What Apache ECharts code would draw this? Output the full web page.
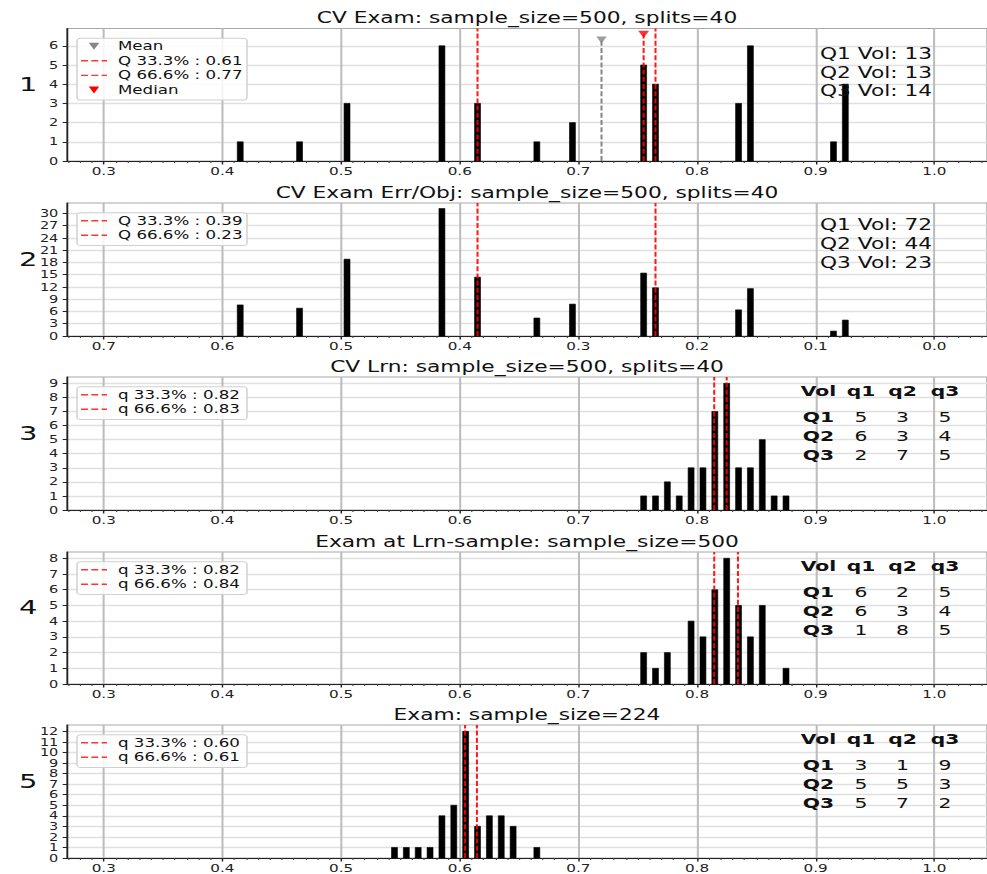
<!DOCTYPE html>
<html><head><meta charset="utf-8">
<script src="https://cdn.jsdelivr.net/npm/echarts@6/dist/echarts.min.js"></script>
<style>
html,body{margin:0;padding:0;background:#fff;overflow:hidden;}
#wrap{position:relative;width:987px;height:874px;overflow:hidden;background:#fff;}
#c{position:absolute;left:0;top:0;width:681px;height:874px;transform:scaleX(1.449339);transform-origin:0 0;}
</style></head>
<body><div id="wrap"><div id="c"></div></div>
<script>
// ---------------- data ----------------
const titles = ['CV Exam: sample_size=500, splits=40',
  'CV Exam Err/Obj: sample_size=500, splits=40',
  'CV Lrn: sample_size=500, splits=40',
  'Exam at Lrn-sample: sample_size=500',
  'Exam: sample_size=224'];
const panelNames = ['1','2','3','4','5'];

const xTickLabels = [0.3,0.4,0.5,0.6,0.7,0.8,0.9,1.0];
const xTickLabelsErr = [0.7,0.6,0.5,0.4,0.3,0.2,0.1,0.0];

const yTicks1 = [0,1,2,3,4,5,6];
const yTicks2 = [0,3,6,9,12,15,18,21,24,27,30];
const yTicks3 = [0,1,2,3,4,5,6,7,8,9];
const yTicks4 = [0,1,2,3,4,5,6,7,8];
const yTicks5 = [0,1,2,3,4,5,6,7,8,9,10,11,12];

// panel 1
const bins1 = [0.415,0.465,0.505,0.585,0.615,0.665,0.695,0.755,0.765,0.835,0.845,0.915,0.925];
const counts1 = [1,1,3,6,3,1,2,5,4,3,6,1,4];
const quant1 = [0.615,0.765];
const legend1 = ['Mean','Q 33.3% : 0.61','Q 66.6% : 0.77','Median'];
const mean1 = [0.7195, 6.3];     // x, marker height
const median1 = [0.755, 6.6];    // x, marker height
const vol1 = [13,13,14];

// panel 2 (error / objective, reversed axis)
const bins2 = [0.585,0.535,0.495,0.415,0.385,0.335,0.305,0.245,0.235,0.165,0.155,0.085,0.075];
const weights2 = [7.6,6.8,18.8,31.2,14.4,4.4,7.8,15.4,11.8,6.4,11.6,1.2,3.9];
const quant2 = [0.385,0.235];
const legend2 = ['Q 33.3% : 0.39','Q 66.6% : 0.23'];
const vol2 = [72,44,23];

// panel 3
const bins3 = [0.755,0.765,0.775,0.785,0.795,0.805,0.815,0.825,0.835,0.845,0.855,0.865,0.875];
const counts3 = [1,1,2,1,3,3,7,9,3,3,5,1,1];
const quant3 = [0.8145,0.825];
const legend3 = ['q 33.3% : 0.82','q 66.6% : 0.83'];
const table3 = [[5,3,5],[6,3,4],[2,7,5]];

// panel 4
const bins4 = [0.755,0.765,0.775,0.785,0.795,0.805,0.815,0.825,0.835,0.845,0.855,0.865,0.875];
const counts4 = [2,1,2,0,4,3,6,8,5,3,5,0,1];
const quant4 = [0.8145,0.8345];
const legend4 = ['q 33.3% : 0.82','q 66.6% : 0.84'];
const table4 = [[6,2,5],[6,3,4],[1,8,5]];

// panel 5
const bins5 = [0.545,0.555,0.565,0.575,0.585,0.595,0.605,0.615,0.625,0.635,0.645,0.655,0.665];
const counts5 = [1,1,1,1,4,5,12,3,4,4,3,0,1];
const quant5 = [0.6045,0.6145];
const legend5 = ['q 33.3% : 0.60','q 66.6% : 0.61'];
const table5 = [[3,1,9],[5,5,3],[5,7,2]];

const tableHead = ['Vol','q1','q2','q3'];
const tableRows = ['Q1','Q2','Q3'];

// ---------------- layout / style ----------------
const S = 987/681;               // horizontal stretch of the reference picture
const PX = v => v / S;           // picture x -> chart x
const F = '"DejaVu Sans", sans-serif';
const gridTops = [28.5, 203, 377, 552, 725];
const gridHeights = [132.5, 133, 133, 132, 134];
const yMax = [6.9, 32.55, 9.45, 8.4, 12.6];
const GL = PX(67), GW = PX(925);
const XMIN = 0.269, XMAX = 1.0444;
const BAR_HALF = 0.0025;
const RED = 'rgba(255,0,0,0.9)';
const GRAY = '#858585';
const DASH = [5, 2.2];

const panels = [
  {bins:bins1, h:counts1, q:quant1, legend:legend1, yt:yTicks1, inv:false},
  {bins:bins2, h:weights2, q:quant2, legend:legend2, yt:yTicks2, inv:true},
  {bins:bins3, h:counts3, q:quant3, legend:legend3, yt:yTicks3, inv:false, table:table3},
  {bins:bins4, h:counts4, q:quant4, legend:legend4, yt:yTicks4, inv:false, table:table4},
  {bins:bins5, h:counts5, q:quant5, legend:legend5, yt:yTicks5, inv:false, table:table5}
];

function minorVals(lo, hi){ const a=[]; for(let k=lo;k<=hi;k++){ if(k%10!==0) a.push(k/100);} return a; }

const grid=[], xAxis=[], yAxis=[], series=[], graphic=[];

function barsRender(params, api){
  const x = api.value(0), h = api.value(1);
  if (!(h > 0)) return null;
  const a = api.coord([x-BAR_HALF, h]), b = api.coord([x+BAR_HALF, 0]);
  return {type:'rect', shape:{x:Math.min(a[0],b[0]), y:a[1], width:Math.abs(b[0]-a[0]), height:b[1]-a[1]},
    style:{fill:'#000', stroke:'#000', lineWidth:0.5}};
}
function vlineRender(color){
  return function(params, api){
    const x = api.value(0), top = api.value(1);
    const a = api.coord([x, 0]), b = api.coord([x, top]);
    return {type:'line', shape:{x1:a[0], y1:a[1], x2:b[0], y2:b[1]},
      style:{stroke:color, lineWidth:1.4, lineDash:DASH}};
  };
}

panels.forEach((p, i) => {
  const top = gridTops[i], hgt = gridHeights[i];
  grid.push({left:GL, top:top, width:GW, height:hgt, show:true, borderColor:'#a8a8a8', borderWidth:1, backgroundColor:'#fff'});
  const min = p.inv ? 1-XMAX : XMIN, max = p.inv ? 1-XMIN : XMAX;
  const ticks = p.inv ? xTickLabelsErr : xTickLabels;
  xAxis.push({gridIndex:i, type:'value', min:min, max:max, inverse:p.inv, position:'bottom',
    axisLine:{show:true, onZero:false, lineStyle:{color:'#222', width:1.2}},
    axisTick:{show:true, length:3.5, customValues:ticks, lineStyle:{color:'#222', width:1}},
    axisLabel:{customValues:ticks, margin:5, fontSize:10.5, fontFamily:F, color:'#222', formatter:v=>v.toFixed(1), hideOverlap:false},
    splitLine:{show:true, lineStyle:{color:'#bcbcbc', width:1.4}}});
  xAxis.push({gridIndex:i, type:'value', min:min, max:max, inverse:p.inv, position:'bottom',
    axisLine:{show:false},
    axisTick:{show:true, length:2, customValues: p.inv ? minorVals(-4,73) : minorVals(27,104), lineStyle:{color:'#444', width:0.8}},
    axisLabel:{show:false}, splitLine:{show:false}});
  yAxis.push({gridIndex:i, type:'value', min:0, max:yMax[i],
    axisLine:{show:true, onZero:false, lineStyle:{color:'#222', width:1.2}},
    axisTick:{show:true, length:3, customValues:p.yt, lineStyle:{color:'#222'}},
    axisLabel:{customValues:p.yt, margin:6, fontSize:10, lineHeight:9, fontFamily:F, color:'#222', hideOverlap:false, showMinLabel:true, showMaxLabel:true},
    splitLine:{show:true, lineStyle:{color:'#e0e0e0', width:1.3}}});

  series.push({type:'custom', xAxisIndex:2*i, yAxisIndex:i, z:2, silent:true,
    data:p.bins.map((b,k)=>[b, p.h[k]]), renderItem:barsRender});
  series.push({type:'custom', xAxisIndex:2*i, yAxisIndex:i, z:3, silent:true,
    data:p.q.map(v=>[v, yMax[i]]), renderItem:vlineRender(RED)});

  // legend box
  const n = p.legend.length;
  const lx = PX(77), ly = top + 9.8;
  graphic.push({type:'rect', z:50, shape:{x:lx, y:ly, width:PX(170), height:14.6*n+3.4, r:2.5},
    style:{fill:'rgba(255,255,255,0.85)', stroke:'#d0d0d0', lineWidth:1}});
  p.legend.forEach((txt, k) => {
    const ry = top + 17.7 + 14.6*k;
    const isTri = (i===0 && (k===0 || k===3));
    if (isTri) {
      const cx = PX(94), col = k===0 ? GRAY : '#ff0000';
      graphic.push({type:'polygon', z:51, shape:{points:[[cx-3.6, ry-3.5],[cx+3.6, ry-3.5],[cx, ry+3.5]]}, style:{fill:col}});
    } else {
      graphic.push({type:'line', z:51, shape:{x1:PX(81), y1:ry, x2:PX(107), y2:ry}, style:{stroke:'rgba(255,30,30,0.9)', lineWidth:1.4, lineDash:[4.8,2.3]}});
    }
    graphic.push({type:'text', z:51, x:PX(118), y:ry, style:{text:txt, fontSize:11.5, fontFamily:F, fill:'#111', align:'left', verticalAlign:'middle'}});
  });

  // title and panel number
  graphic.push({type:'text', z:52, x:GL + PX(920)/2, y:top-10.5, style:{text:titles[i], fontSize:15, fontFamily:F, fill:'#111', align:'center', verticalAlign:'middle'}});
  graphic.push({type:'text', z:52, x:PX(28.3), y:top + hgt/2 - 10.5, style:{text:panelNames[i], fontSize:20, fontFamily:F, fill:'#111', align:'center', verticalAlign:'middle'}});

  // tables
  if (p.table) {
    const cols = [PX(818.5), PX(861), PX(902.5), PX(945)];
    tableHead.forEach((t, c) => graphic.push({type:'text', z:52, x:cols[c], y:top+14.5,
      style:{text:t, fontSize:14, fontWeight:'bold', fontFamily:F, fill:'#111', align:'center', verticalAlign:'middle'}}));
    tableRows.forEach((r, k) => {
      const ry = top + 40.5 + 19*k;
      graphic.push({type:'text', z:52, x:cols[0], y:ry, style:{text:r, fontSize:14, fontWeight:'bold', fontFamily:F, fill:'#111', align:'center', verticalAlign:'middle'}});
      p.table[k].forEach((v, c) => graphic.push({type:'text', z:52, x:cols[c+1], y:ry,
        style:{text:String(v), fontSize:14, fontFamily:F, fill:'#111', align:'center', verticalAlign:'middle'}}));
    });
  }
});

// panel 1 mean & median
series.push({type:'custom', xAxisIndex:0, yAxisIndex:0, z:3, silent:true, data:[mean1], renderItem:vlineRender(GRAY)});
series.push({type:'custom', xAxisIndex:0, yAxisIndex:0, z:3, silent:true, data:[median1], renderItem:vlineRender(RED)});
series.push({type:'scatter', xAxisIndex:0, yAxisIndex:0, z:4, silent:true, data:[mean1], symbol:'triangle', symbolRotate:180, symbolSize:[7.2,7], itemStyle:{color:GRAY}});
series.push({type:'scatter', xAxisIndex:0, yAxisIndex:0, z:4, silent:true, data:[median1], symbol:'triangle', symbolRotate:180, symbolSize:[7.6,7], itemStyle:{color:'#ff0000'}});

// Vol texts (panels 1 & 2)
const volY = [[53.3,72.3,91],[224.3,243.3,262.3]];
[vol1, vol2].forEach((vals, pi) => vals.forEach((v, k) => {
  graphic.push({type:'text', z:52, x:PX(820), y:volY[pi][k], style:{text:'Q'+(k+1)+' Vol: '+v, fontSize:15, fontFamily:F, fill:'#111', align:'left', verticalAlign:'middle'}});
}));

const chart = echarts.init(document.getElementById('c'), null, {renderer:'svg', width:681, height:874});
chart.setOption({animation:false, backgroundColor:'#fff', grid, xAxis, yAxis, series, graphic});
</script>
</body></html>
